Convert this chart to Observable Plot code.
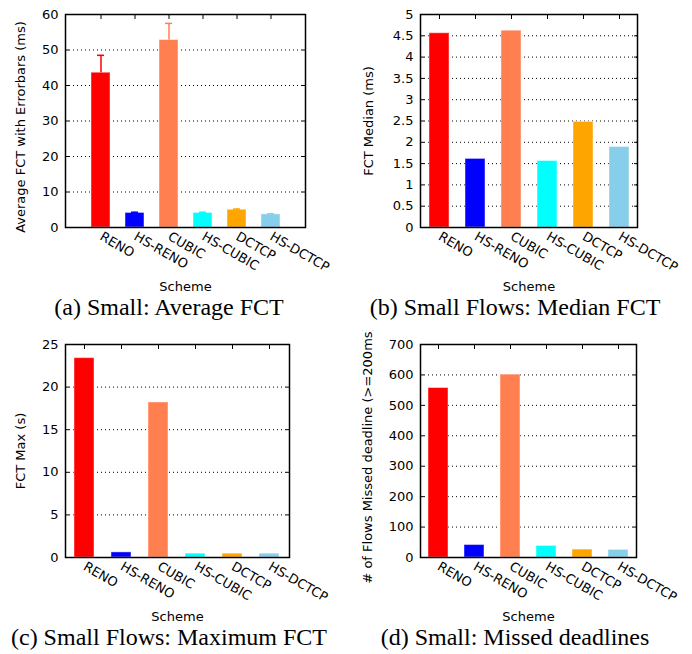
<!DOCTYPE html>
<html><head><meta charset="utf-8">
<script src="https://cdn.jsdelivr.net/npm/d3@7"></script>
<script src="https://cdn.jsdelivr.net/npm/@observablehq/plot@0.6"></script>
<style>
body{margin:0;background:#fff;}
#fig{position:relative;width:692px;height:654px;overflow:hidden;background:#fff;}
.cell{position:absolute;width:346px;height:330px;}
.cell svg{position:absolute;left:0;top:0;}
.cap{position:absolute;left:0;width:338px;top:295px;text-align:center;font-family:"Liberation Serif","Times New Roman",serif;font-size:24px;line-height:24px;color:#000;white-space:nowrap;}
</style></head><body><div id="fig"></div>
<script>
const schemes = ["RENO","HS-RENO","CUBIC","HS-CUBIC","DCTCP","HS-DCTCP"];
const schemeColors = ["#ff0000","#0000ff","#ff7f50","#00ffff","#ffa500","#87ceeb"];
const avgFct = [43.6, 4.1, 52.8, 4.1, 5.0, 3.7];
const avgFctErr = [4.9, 0.2, 4.7, 0.2, 0.2, 0.15];
const medianFct = [4.56, 1.61, 4.62, 1.56, 2.48, 1.89];
const maxFct = [23.4, 0.6, 18.2, 0.45, 0.45, 0.45];
const missedDeadlines = [557, 41, 601, 38, 26, 25];
const ticksAvg = [0, 10, 20, 30, 40, 50, 60];
const ticksMedian = [0, 0.5, 1, 1.5, 2, 2.5, 3, 3.5, 4, 4.5, 5];
const ticksMax = [0, 5, 10, 15, 20, 25];
const ticksMissed = [0, 100, 200, 300, 400, 500, 600, 700];
const yLabels = ["Average FCT with Errorbars (ms)", "FCT Median (ms)", "FCT Max (s)", "# of Flows Missed deadline (>=200ms)"];
const xLabel = "Scheme";
const captions = ["(a) Small: Average FCT", "(b) Small Flows: Median FCT", "(c) Small Flows: Maximum FCT", "(d) Small: Missed deadlines"];

const FS = 13;
function panel({values, err, yTicks, yLabel, marginLeft, marginRight, pad, labelX, labelDy}) {
  const data = schemes.map((s, i) => ({scheme: s, value: values[i], high: err ? values[i] + err[i] : null}));
  const marks = [
    Plot.gridY(yTicks, {stroke: "#000", strokeOpacity: 1, strokeDasharray: "1,3", strokeWidth: 1}),
    Plot.barY(data, {x: "scheme", y: "value", fill: "scheme", stroke: "#fff", strokeOpacity: 0.45, strokeWidth: 1})
  ];
  if (err) {
    marks.push(
      Plot.ruleX(data, {x: "scheme", y1: "value", y2: "high", stroke: "scheme", strokeWidth: 1.5}),
      Plot.tickY(data, {x: "scheme", y: "high", stroke: "scheme", strokeWidth: 1.5, insetLeft: 6, insetRight: 6})
    );
  }
  marks.push(
    Plot.axisY(yTicks, {anchor: "left", tickSize: 0, tickPadding: 7, tickFormat: d => String(d), label: null, fontSize: FS}),
    Plot.axisY(yTicks, {anchor: "left", tickSize: -4, fill: "none", label: null}),
    Plot.axisY(yTicks, {anchor: "right", tickSize: -4, fill: "none", label: null}),
    Plot.axisX({anchor: "top", tickSize: -4, fill: "none", label: null}),
    Plot.axisX({anchor: "bottom", tickSize: 0, tickPadding: 8, tickRotate: 30, label: null, fontSize: FS}),
    Plot.frame({stroke: "#000", strokeWidth: 1.5}),
    Plot.text([yLabel], {frameAnchor: "left", dx: labelX - marginLeft, dy: labelDy, rotate: -90, text: d => d, textAnchor: "middle", lineAnchor: "middle", fontSize: FS}),
    Plot.text([xLabel], {frameAnchor: "bottom", dy: 59, text: d => d, textAnchor: "middle", lineAnchor: "middle", fontSize: FS})
  );
  return Plot.plot({
    width: 346, height: 300,
    marginTop: 14, marginBottom: 73, marginLeft, marginRight,
    style: {fontFamily: "'DejaVu Sans'", fontSize: "13px", background: "transparent", color: "#000", overflow: "hidden"},
    x: {domain: schemes, paddingInner: 0.45, paddingOuter: pad},
    y: {domain: [yTicks[0], yTicks[yTicks.length - 1]]},
    color: {domain: schemes, range: schemeColors},
    marks
  });
}

const configs = [
  {values: avgFct, err: avgFctErr, yTicks: ticksAvg, marginLeft: 65, marginRight: 41, pad: 0.725, labelX: 20, labelDy: 6},
  {values: medianFct, yTicks: ticksMedian, marginLeft: 74, marginRight: 55, pad: 0.225, labelX: 22, labelDy: 0},
  {values: maxFct, yTicks: ticksMax, marginLeft: 65, marginRight: 57, pad: 0.225, labelX: 20, labelDy: 0},
  {values: missedDeadlines, yTicks: ticksMissed, marginLeft: 74, marginRight: 56, pad: 0.225, labelX: 21, labelDy: 4}
];
const fig = document.getElementById("fig");
configs.forEach((c, i) => {
  const cell = document.createElement("div");
  cell.className = "cell";
  cell.style.left = (i % 2) * 346 + "px";
  cell.style.top = Math.floor(i / 2) * 330 + "px";
  cell.appendChild(panel({...c, yLabel: yLabels[i]}));
  const cap = document.createElement("div");
  cap.className = "cap";
  cap.textContent = captions[i];
  cell.appendChild(cap);
  fig.appendChild(cell);
});
</script></body></html>
